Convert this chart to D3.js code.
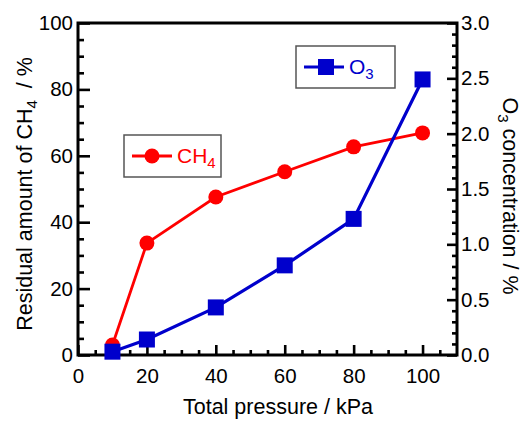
<!DOCTYPE html>
<html>
<head>
<meta charset="utf-8">
<script src="https://cdn.jsdelivr.net/npm/d3@7"></script>
<style>
  body { margin: 0; background: #fff; }
  svg { display: block; font-family: "Liberation Sans", Arial, sans-serif; }
  .axis text { font-size: 20.5px; fill: #000; }
  .axis line { stroke: #000; stroke-width: 2.6; }
</style>
</head>
<body>
<svg id="chart" width="528" height="421"></svg>
<script>
// data
const pressure = [10, 20, 40, 60, 80, 100];
const ch4Residual = [3, 33.7, 47.6, 55.2, 62.7, 66.9];
const o3Conc = [0.03, 0.14, 0.43, 0.81, 1.23, 2.49];

const xTicks = [0, 20, 40, 60, 80, 100];
const leftTicks = [0, 20, 40, 60, 80, 100];
const rightTicks = [0, 0.5, 1.0, 1.5, 2.0, 2.5, 3.0];

const svg = d3.select("#chart");

const plotL = 78, plotR = 457, plotT = 23, plotB = 355;

const x = d3.scaleLinear().domain([0, 110]).range([plotL, plotR]);
const yL = d3.scaleLinear().domain([0, 100]).range([plotB, plotT]);
const yR = d3.scaleLinear().domain([0, 3]).range([plotB, plotT]);

/* ---- minor ticks ---- */
const xMinor = d3.range(5, 110, 5).filter(v => v % 20 !== 0);
const lMinor = d3.range(5, 100, 5).filter(v => v % 20 !== 0);
const rMinor = d3.range(1, 30).filter(v => v % 5 !== 0).map(v => v / 10);

svg.append("g").attr("class", "axis")
  .attr("transform", `translate(0,${plotB})`)
  .call(d3.axisBottom(x).tickValues(xMinor).tickSize(-5).tickFormat(""))
  .call(g => g.select(".domain").remove());

svg.append("g").attr("class", "axis")
  .attr("transform", `translate(${plotL},0)`)
  .call(d3.axisLeft(yL).tickValues(lMinor).tickSize(-6).tickFormat(""))
  .call(g => g.select(".domain").remove());

svg.append("g").attr("class", "axis")
  .attr("transform", `translate(${plotR},0)`)
  .call(d3.axisRight(yR).tickValues(rMinor).tickSize(-5).tickFormat(""))
  .call(g => g.select(".domain").remove());

/* ---- major ticks with labels ---- */
svg.append("g").attr("class", "axis")
  .attr("transform", `translate(0,${plotB})`)
  .call(d3.axisBottom(x).tickValues(xTicks).tickSizeInner(-10).tickSizeOuter(0).tickPadding(13))
  .call(g => g.select(".domain").remove());

svg.append("g").attr("class", "axis")
  .attr("transform", `translate(${plotL},0)`)
  .call(d3.axisLeft(yL).tickValues(leftTicks).tickSizeInner(-12).tickSizeOuter(0).tickPadding(5))
  .call(g => g.select(".domain").remove());

svg.append("g").attr("class", "axis")
  .attr("transform", `translate(${plotR},0)`)
  .call(d3.axisRight(yR).tickValues(rightTicks).tickSizeInner(-10).tickSizeOuter(0).tickPadding(4).tickFormat(d3.format(".1f")))
  .call(g => g.select(".domain").remove());

// frame
svg.append("rect")
  .attr("x", plotL).attr("y", plotT)
  .attr("width", plotR - plotL).attr("height", plotB - plotT)
  .attr("fill", "none").attr("stroke", "#000").attr("stroke-width", 3);

/* ---- axis titles ---- */
svg.append("text")
  .attr("x", 278)
  .attr("y", 414)
  .attr("text-anchor", "middle")
  .attr("font-size", 21.5)
  .text("Total pressure / kPa");

const lt = svg.append("text")
  .attr("transform", "translate(32,194) rotate(-90)")
  .attr("text-anchor", "middle")
  .attr("font-size", 21.5)
  .attr("xml:space", "preserve");
lt.append("tspan").text("Residual amount of CH");
lt.append("tspan").attr("font-size", 15).attr("dy", 5).text("4");
lt.append("tspan").attr("dy", -5).text("  / %");

const rt = svg.append("text")
  .attr("transform", "translate(503,196) rotate(90)")
  .attr("text-anchor", "middle")
  .attr("font-size", 21.5);
rt.append("tspan").text("O");
rt.append("tspan").attr("font-size", 15).attr("dy", 5).text("3");
rt.append("tspan").attr("dy", -5).text(" concentration / %");

/* ---- series ---- */
const ch4Pts = pressure.map((p, i) => [x(p), yL(ch4Residual[i])]);
const o3Pts = pressure.map((p, i) => [x(p), yR(o3Conc[i])]);

svg.append("path")
  .attr("d", d3.line()(ch4Pts))
  .attr("fill", "none").attr("stroke", "#ff0000").attr("stroke-width", 2.8);

svg.selectAll(".ch4dot").data(ch4Pts).enter().append("circle")
  .attr("cx", d => d[0]).attr("cy", d => d[1]).attr("r", 7.5)
  .attr("fill", "#ff0000");

svg.append("path")
  .attr("d", d3.line()(o3Pts))
  .attr("fill", "none").attr("stroke", "#0000cc").attr("stroke-width", 3.2);

svg.selectAll(".o3sq").data(o3Pts).enter().append("rect")
  .attr("x", d => d[0] - 8).attr("y", d => d[1] - 8)
  .attr("width", 16).attr("height", 16)
  .attr("fill", "#0000cc");

/* ---- legends ---- */
function legend(x0, y0, w, h, color, shape, label, sub) {
  const g = svg.append("g");
  g.append("rect")
    .attr("x", x0).attr("y", y0).attr("width", w).attr("height", h)
    .attr("fill", "#fff").attr("stroke", "#555").attr("stroke-width", 1.5);
  const cy = y0 + h / 2;
  g.append("line")
    .attr("x1", x0 + 8).attr("x2", x0 + 48).attr("y1", cy).attr("y2", cy)
    .attr("stroke", color).attr("stroke-width", 3);
  if (shape === "circle") {
    g.append("circle").attr("cx", x0 + 28).attr("cy", cy).attr("r", 7.5).attr("fill", color);
  } else {
    g.append("rect").attr("x", x0 + 22).attr("y", cy - 8).attr("width", 16).attr("height", 16).attr("fill", color);
  }
  const t = g.append("text")
    .attr("x", x0 + 53).attr("y", cy + 7)
    .attr("font-size", 21).attr("fill", color);
  t.append("tspan").text(label);
  t.append("tspan").attr("font-size", 15).attr("dy", 5).text(sub);
}

legend(124, 135, 97, 42, "#ff0000", "circle", "CH", "4");
legend(296, 46, 99, 42, "#0000cc", "square", "O", "3");
</script>
</body>
</html>
